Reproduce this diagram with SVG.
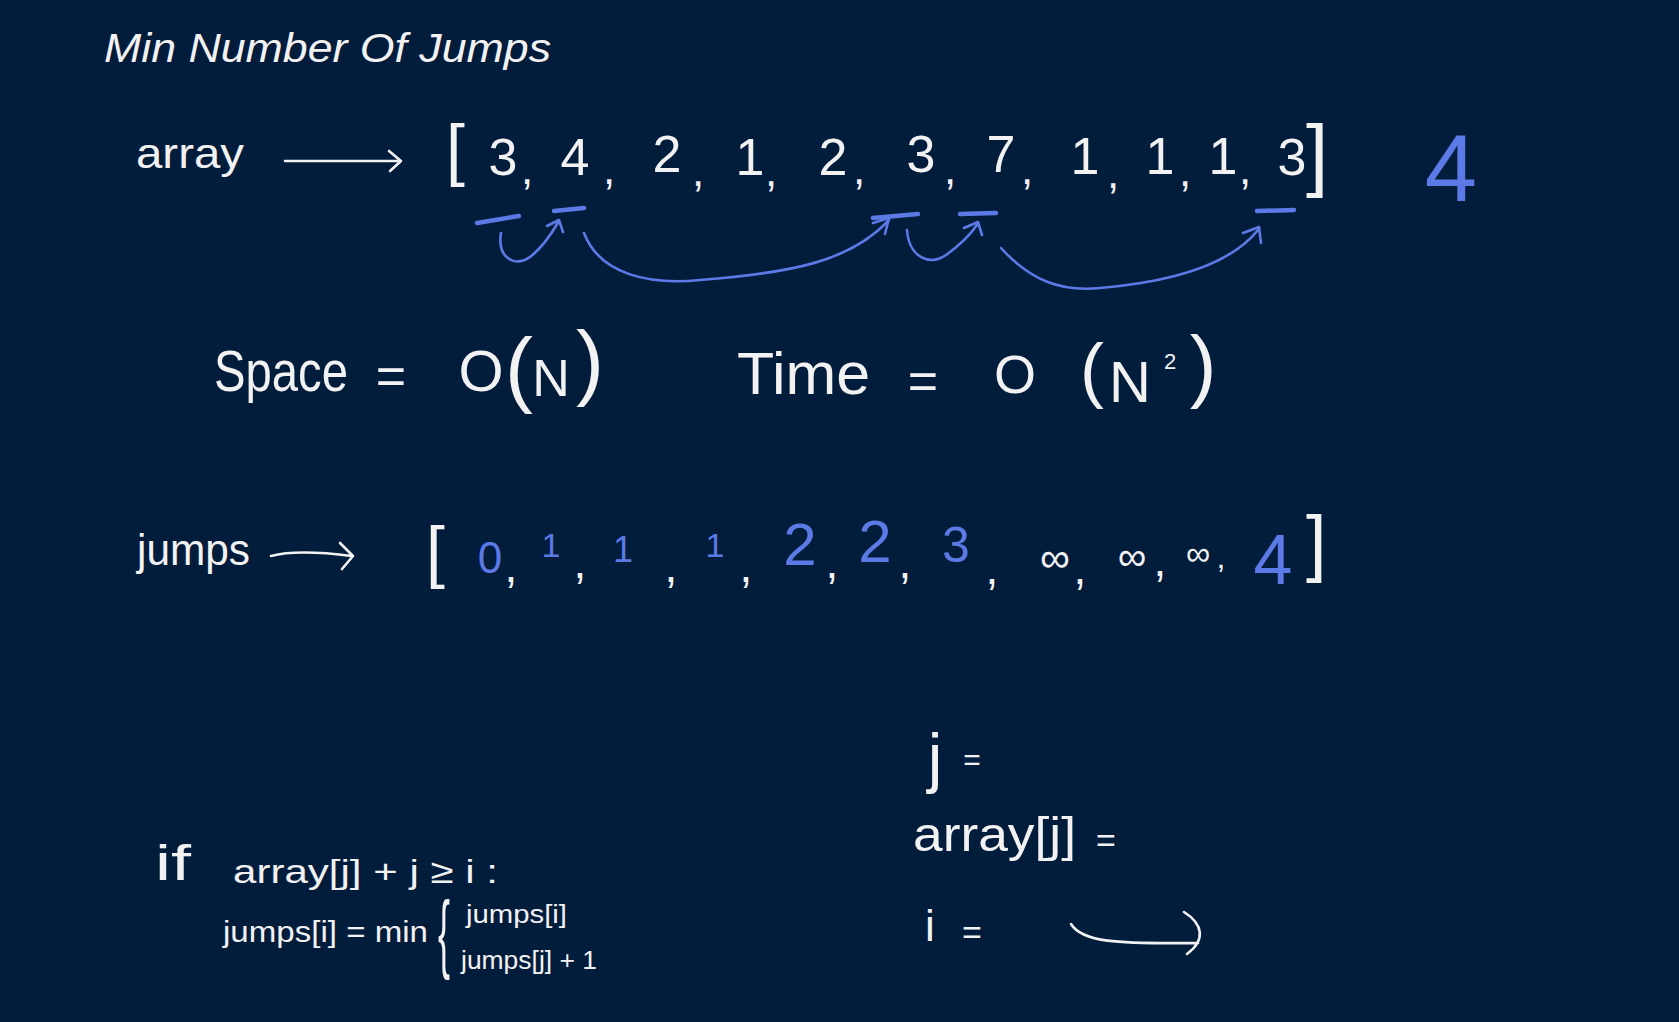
<svg xmlns="http://www.w3.org/2000/svg" width="1679" height="1022" viewBox="0 0 1679 1022">
<style>
text{font-family:"Liberation Sans","DejaVu Sans",sans-serif;fill:#f2f2f2}
.b{fill:#5c7ae6}
.m{text-anchor:middle}
.ws{stroke:#f2f2f2;fill:none;stroke-width:2.6;stroke-linecap:round;stroke-linejoin:round}
.bs{stroke:#5c7ae6;fill:none;stroke-width:2.6;stroke-linecap:round;stroke-linejoin:round}
.bu{stroke:#5c7ae6;fill:none;stroke-width:4.5;stroke-linecap:round}
</style>
<rect width="1679" height="1022" fill="#021c3c"/>
<g id="title"><text x="104" y="62" font-size="40" font-style="italic" textLength="447" lengthAdjust="spacingAndGlyphs">Min Number Of Jumps</text></g>

<g id="array-row">
<text x="136" y="168" font-size="42" textLength="108" lengthAdjust="spacingAndGlyphs">array</text>
<text x="446" y="173" font-size="68">[</text>
<g font-size="52">
<text class="m" x="503" y="175">3</text><text class="m" x="575" y="175">4</text><text class="m" x="667" y="172">2</text>
<text class="m" x="750" y="175">1</text><text class="m" x="833" y="175">2</text><text class="m" x="921" y="172">3</text>
<text class="m" x="1001" y="172">7</text><text class="m" x="1085" y="174">1</text><text class="m" x="1160" y="174">1</text>
<text class="m" x="1223" y="174">1</text><text class="m" x="1292" y="175">3</text>
</g>
<g font-size="44">
<text class="m" x="527" y="184">,</text><text class="m" x="609" y="184">,</text><text class="m" x="698" y="186">,</text>
<text class="m" x="771" y="186">,</text><text class="m" x="859" y="184">,</text><text class="m" x="950" y="184">,</text>
<text class="m" x="1027" y="184">,</text><text class="m" x="1113" y="188">,</text><text class="m" x="1185" y="186">,</text>
<text class="m" x="1245" y="184">,</text>
</g>
<text x="1306" y="181" font-size="80">]</text>
<text class="b m" x="1451" y="201" font-size="94">4</text>
</g>

<g id="connectors">
<path class="ws" d="M285,161 L400,161 M389,151 L401,161 L390,171"/>
<path class="bu" d="M477,223 L519,216 M554,211 L584,208 M873,218 L918,214 M960,214 L996,213 M1257,211 L1294,210"/>
<path class="bs" d="M501,233 C497,258 515,268 530,257 C542,248 552,233 559,221 M547,226 L559,220 L563,232"/>
<path class="bs" d="M584,233 C600,275 650,285 700,280 C790,273 850,262 889,220 M873,223 L889,218 L885,234"/>
<path class="bs" d="M907,230 C909,258 930,266 946,255 C960,245 970,235 977,225 M964,228 L978,222 L982,235"/>
<path class="bs" d="M1001,248 C1030,280 1060,292 1100,288 C1170,282 1230,265 1258,230 M1243,233 L1259,227 L1261,243"/>
<path class="ws" d="M271,556 C290,551 320,552 352,556 M340,543 L353,556 L342,569"/>
<path class="ws" d="M1071,924 C1082,942 1115,944 1198,943 M1184,912 C1203,924 1206,940 1187,954"/>
</g>

<g id="complexity">
<text x="214" y="391" font-size="58" textLength="134" lengthAdjust="spacingAndGlyphs">Space</text>
<text class="m" x="391" y="394" font-size="52">=</text>
<text class="m" x="481" y="391" font-size="58">O</text>
<text class="m" x="519" y="397" font-size="84">(</text>
<text class="m" x="551" y="396" font-size="52">N</text>
<text class="m" x="590" y="390" font-size="84">)</text>
<text x="737" y="394" font-size="60" textLength="133" lengthAdjust="spacingAndGlyphs">Time</text>
<text class="m" x="923" y="399" font-size="52">=</text>
<text class="m" x="1015" y="393" font-size="54">O</text>
<text class="m" x="1092" y="394" font-size="72">(</text>
<text class="m" x="1130" y="402" font-size="58">N</text>
<text class="m" x="1170" y="369" font-size="22">2</text>
<text class="m" x="1203" y="392" font-size="80">)</text>
</g>

<g id="jumps-row">
<text x="137" y="565" font-size="44" textLength="113" lengthAdjust="spacingAndGlyphs">jumps</text>
<text x="426" y="575" font-size="68">[</text>
<text class="b m" x="490" y="573" font-size="44">0</text>
<text class="b m" x="551" y="557" font-size="34">1</text>
<text class="b m" x="623" y="562" font-size="36">1</text>
<text class="b m" x="715" y="557" font-size="34">1</text>
<text class="b m" x="800" y="565" font-size="60">2</text>
<text class="b m" x="875" y="562" font-size="60">2</text>
<text class="b m" x="956" y="562" font-size="50">3</text>
<text class="m" x="1055" y="572" font-size="42">∞</text>
<text class="m" x="1132" y="570" font-size="40">∞</text>
<text class="m" x="1198" y="565" font-size="34">∞</text>
<text class="b m" x="1273" y="584" font-size="70">4</text>
<g font-size="46">
<text class="m" x="511" y="582">,</text><text class="m" x="580" y="578">,</text><text class="m" x="671" y="582">,</text>
<text class="m" x="746" y="582">,</text><text class="m" x="832" y="578">,</text><text class="m" x="905" y="578">,</text>
<text class="m" x="992" y="584">,</text><text class="m" x="1080" y="584">,</text><text class="m" x="1160" y="576">,</text>
<text class="m" x="1221" y="568" font-size="32">,</text>
</g>
<text x="1306" y="568" font-size="74">]</text>
</g>

<g id="vars">
<text class="m" x="935" y="780" font-size="66">j</text>
<text class="m" x="972" y="770" font-size="30">=</text>
<text x="913" y="851" font-size="48" textLength="163" lengthAdjust="spacingAndGlyphs">array[j]</text>
<text class="m" x="1106" y="852" font-size="34">=</text>
<text class="m" x="930" y="941" font-size="44">i</text>
<text class="m" x="972" y="944" font-size="34">=</text>
</g>

<g id="rule">
<text x="155" y="880" font-size="50" textLength="36" lengthAdjust="spacingAndGlyphs">if</text>
<text x="233" y="883" font-size="34" textLength="265" lengthAdjust="spacingAndGlyphs">array[j] + j ≥ i :</text>
<text x="223" y="942" font-size="30" textLength="205" lengthAdjust="spacingAndGlyphs">jumps[i] = min</text>
<text x="438" y="962" font-size="88" textLength="12" lengthAdjust="spacingAndGlyphs">{</text>
<text x="466" y="923" font-size="26" textLength="101" lengthAdjust="spacingAndGlyphs">jumps[i]</text>
<text x="461" y="969" font-size="26" textLength="136" lengthAdjust="spacingAndGlyphs">jumps[j] + 1</text>
</g>
</svg>
